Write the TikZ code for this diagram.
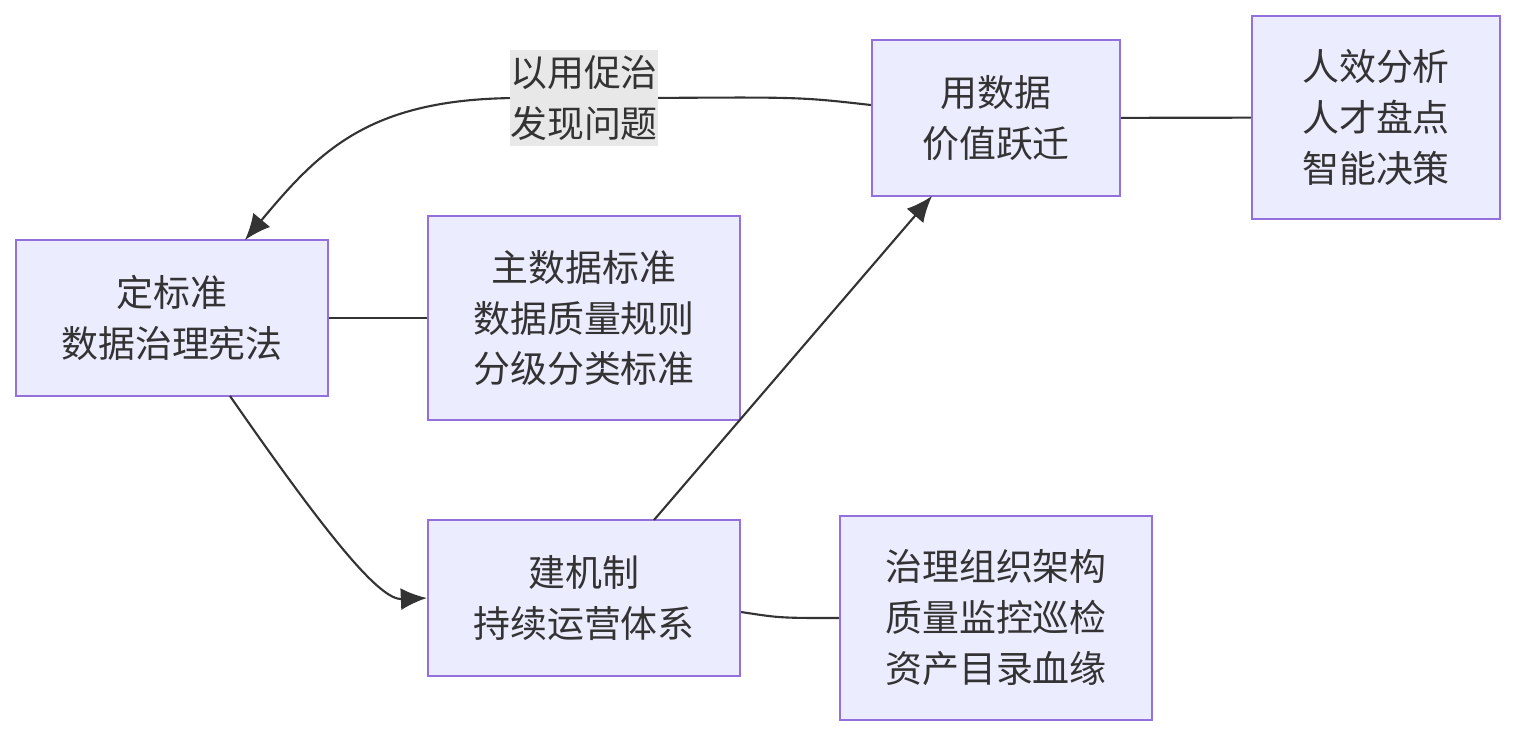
\documentclass[tikz,border=0pt]{standalone}
\usepackage{fontspec}
\setmainfont{Noto Sans CJK SC}
\usetikzlibrary{positioning, arrows.meta}
\definecolor{boxfill}{HTML}{ECECFF}
\definecolor{boxline}{HTML}{9370DB}
\definecolor{edge}{HTML}{333333}
\definecolor{lblbg}{HTML}{E8E8E8}
\tikzset{>={Latex[length=2.6mm,width=2.2mm]}}

\begin{document}
\begin{tikzpicture}[x=0.01cm, y=-0.01cm,
  box/.style={rectangle, draw=boxline, fill=boxfill, line width=0.6pt, align=center, inner sep=0pt, font=\fontsize{10.5}{14.5}\selectfont, text=edge},
  link/.style={draw=edge, line width=0.6pt},
  tag/.style={fill=lblbg, align=center, inner sep=0pt, minimum width=1.28cm, minimum height=0.96cm, font=\fontsize{10.5}{14.5}\selectfont, text=edge}]
    \useasboundingbox (0,0) rectangle (1516,736);
    \node[box, minimum width=2.48cm, minimum height=1.56cm] (use) at (996,118) {用数据\\价值跃迁};
    \node[box, minimum width=2.48cm, minimum height=2.03cm] (effect) at (1376,117.5) {人效分析\\人才盘点\\智能决策};
    \node[box, minimum width=3.12cm, minimum height=1.56cm] (standard) at (172,318) {定标准\\数据治理宪法};
    \node[box, minimum width=3.12cm, minimum height=2.04cm] (rules) at (584,318) {主数据标准\\数据质量规则\\分级分类标准};
    \node[box, minimum width=3.12cm, minimum height=1.56cm] (mech) at (584,598) {建机制\\持续运营体系};
    \node[box, minimum width=3.12cm, minimum height=2.04cm] (org) at (996,618) {治理组织架构\\质量监控巡检\\资产目录血缘};
    \coordinate (bend) at (520,98);

    % feedback loop
    \draw[link, ->] (use.west |- 0,105) .. controls (800,97) .. (648,98) -- (bend) .. controls (370,98) and (320,150) .. (245,240);
    \node[tag] (lbl) at (584,98) {以用促治\\发现问题};
    \draw[link] (standard) -- (rules);
    \draw[link, ->] (230,396) .. controls (330,540) and (380,600) .. (mech.west);
    \draw[link, ->] (654,520) -- (932,196);
    \draw[link] (mech.east |- 0,612) .. controls (780,618) .. (org.west);
    \draw[link] (use) -- (effect);
\end{tikzpicture}
\end{document}
